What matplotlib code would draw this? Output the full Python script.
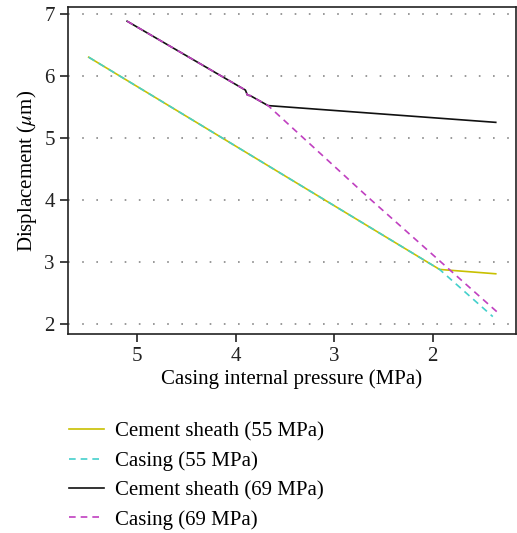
import matplotlib
matplotlib.use("Agg")
import matplotlib.pyplot as plt

plt.rcParams['font.family'] = ['Liberation Serif', 'DejaVu Serif']
plt.rcParams['mathtext.fontset'] = 'stix'

# Casing internal pressure (MPa) and displacement (um)
p_cement55 = [5.49, 1.93, 1.36]
d_cement55 = [6.30, 2.88, 2.81]

p_casing55 = [5.49, 1.93, 1.39]
d_casing55 = [6.30, 2.88, 2.12]

p_cement69 = [5.10, 3.90, 3.88, 3.85, 3.67, 1.36]
d_cement69 = [6.88, 5.77, 5.69, 5.68, 5.52, 5.25]

p_casing69 = [5.10, 3.90, 3.88, 3.85, 3.67, 2.66, 1.35]
d_casing69 = [6.88, 5.77, 5.69, 5.68, 5.52, 4.05, 2.20]

labels = ["Cement sheath (55 MPa)", "Casing (55 MPa)",
          "Cement sheath (69 MPa)", "Casing (69 MPa)"]

fig = plt.figure(figsize=(5.17, 5.33), dpi=100)
ax = fig.add_axes([0.1315, 0.3734, 0.8665, 0.6136])

ax.plot(p_cement55, d_cement55, color="#c8c000", lw=1.2, label=labels[0])
ax.plot(p_casing55, d_casing55, color="#44d0cc", lw=1.2, ls=(0, (4, 3)), label=labels[1])
ax.plot(p_cement69, d_cement69, color="#111111", lw=1.2, label=labels[2])
ax.plot(p_casing69, d_casing69, color="#c040c0", lw=1.2, ls=(0, (4, 3)), label=labels[3])

ax.set_xlim(5.70, 1.155)
ax.set_ylim(1.84, 7.11)
ax.set_xticks([5, 4, 3, 2])
ax.set_yticks([2, 3, 4, 5, 6, 7])
ax.yaxis.grid(True, linestyle=(0, (1, 7.5)), color="#888888", lw=1.2)
ax.tick_params(labelsize=15, length=6, width=1.2, colors="#222222")
for s in ax.spines.values():
    s.set_linewidth(1.2)
    s.set_color("#222222")

ax.set_xlabel("Casing internal pressure (MPa)", fontsize=15, labelpad=2)
ax.set_ylabel(r"Displacement ($\mu$m)", fontsize=15, labelpad=4)

fig.legend(loc="upper left", bbox_to_anchor=(0.097, 0.244), frameon=False,
           fontsize=15, handlelength=1.7, labelspacing=0.47, handletextpad=0.5)

fig.savefig("out.png", dpi=100)
